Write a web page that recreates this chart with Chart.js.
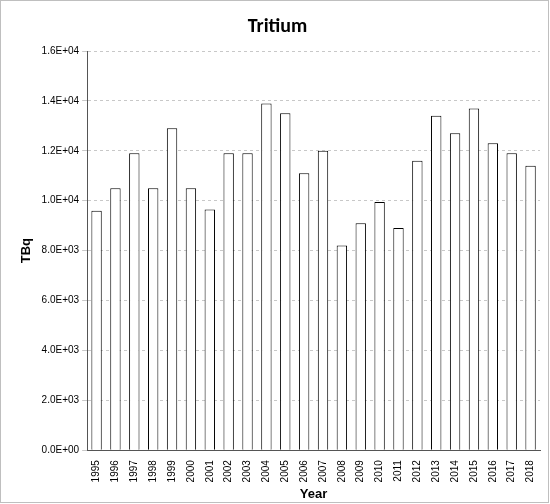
<!DOCTYPE html>
<html>
<head>
<script src="https://cdn.jsdelivr.net/npm/chart.js@4"></script>
<style>
body{margin:0;background:#fff;}
#box{position:absolute;left:0;top:0;width:547px;height:501px;border:1px solid #bfbfbf;}
</style>
</head>
<body>
<div id="box"><canvas id="c" width="547" height="501"></canvas></div>
<script>
var years = ["1995","1996","1997","1998","1999","2000","2001","2002","2003","2004","2005","2006","2007","2008","2009","2010","2011","2012","2013","2014","2015","2016","2017","2018"];
var tritium = [9600,10500,11900,10500,12900,10500,9650,11900,11900,13900,13500,11100,12000,8200,9100,9950,8900,11600,13400,12700,13700,12300,11900,11400];

new Chart(document.getElementById('c'), {
	type: 'bar',
	data: {
		labels: years,
		datasets: [{
			data: tritium,
			backgroundColor: '#ffffff',
			borderColor: '#000000',
			borderWidth: 1,
			barPercentage: 0.55,
			categoryPercentage: 1
		}]
	},
	options: {
		responsive: false,
		animation: false,
		layout: { padding: { left: 14, right: 8, top: 4, bottom: 0 } },
		plugins: {
			legend: { display: false },
			tooltip: { enabled: false },
			title: {
				display: true,
				text: 'Tritium',
				color: '#000',
				font: { family: 'Calibri, Carlito, "Liberation Sans", sans-serif', size: 20, weight: 'bold' },
				padding: { top: 10, bottom: 12 }
			}
		},
		scales: {
			x: {
				grid: { display: false },
				border: { color: '#555' },
				ticks: { color: '#000', padding: 2, maxRotation: 90, minRotation: 90, font: { family: '"Liberation Sans", sans-serif', size: 10 } },
				title: { display: true, text: 'Year', color: '#000', padding: { top: 2, bottom: 0 }, font: { family: '"Liberation Sans", sans-serif', size: 13, weight: 'bold' } }
			},
			y: {
				min: 0, max: 16000,
				ticks: {
					stepSize: 2000, color: '#000',
					font: { family: '"Liberation Sans", sans-serif', size: 10 },
					callback: function(v){ return v === 0 ? '0.0E+00' : (v/Math.pow(10, Math.floor(Math.log10(v)))).toFixed(1) + 'E+0' + Math.floor(Math.log10(v)); }
				},
				grid: { color: '#c8c8c8', tickLength: 5 },
				border: { color: '#555', dash: [3, 3] },
				title: { display: true, text: 'TBq', color: '#000', font: { family: '"Liberation Sans", sans-serif', size: 13, weight: 'bold' } }
			}
		}
	}
});
</script>
</body>
</html>
